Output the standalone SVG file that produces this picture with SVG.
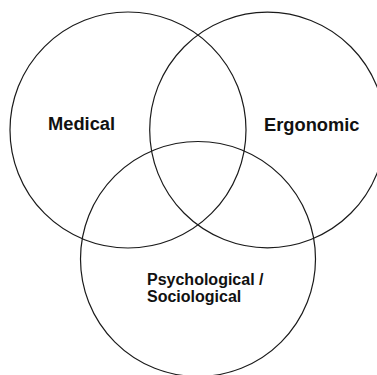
<svg xmlns="http://www.w3.org/2000/svg" width="377" height="375" viewBox="0 0 377 375">
<style>
.c{fill:none;stroke:#1a1a1a;stroke-width:1.2}
.t{font-family:"Liberation Sans",Arial,Helvetica,sans-serif;font-weight:bold;fill:#111}
.top{font-size:18.3px}
.bot{font-size:16px}
</style>
<rect width="377" height="375" fill="#fff"/>
<g id="medical">
<circle class="c" cx="128" cy="130" r="118"/>
<text class="t top" x="48" y="130">Medical</text>
</g>
<g id="ergonomic">
<circle class="c" cx="267.5" cy="130" r="117.8"/>
<text class="t top" x="264" y="131">Ergonomic</text>
</g>
<g id="psychological">
<circle class="c" cx="198" cy="259" r="117.5"/>
<text class="t bot" x="147" y="284.5">Psychological /</text>
<text class="t bot" x="147" y="302">Sociological</text>
</g>
<g id="connectors"/>
</svg>
